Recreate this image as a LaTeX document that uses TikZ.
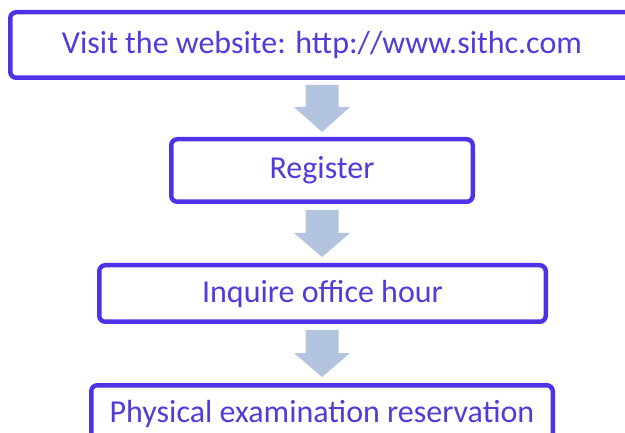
\documentclass[tikz,border=0pt]{standalone}
\usepackage{fontspec}
\setmainfont{Carlito}
\usetikzlibrary{calc}
\definecolor{boxline}{RGB}{80,50,230}
\definecolor{boxtext}{RGB}{80,60,220}
\definecolor{arrowfill}{RGB}{178,196,222}
\tikzset{
  stepbox/.style={draw=boxline, line width=4.5pt, rounded corners=6pt, fill=white,
    text=boxtext, font=\fontsize{32}{37}\selectfont, inner sep=0pt},
  blockarrow/.style={fill=arrowfill, draw=none}
}
% #1 centre x, #2 shaft top y, #3 head start y, #4 tip y (all in pt, y measured from top)
\newcommand{\myblockarrow}[4]{%
  \fill[blockarrow] (#1pt-16.5pt,432pt-#2pt) -- (#1pt+16.5pt,432pt-#2pt)
    -- (#1pt+16.5pt,432pt-#3pt) -- (#1pt+28pt,432pt-#3pt)
    -- (#1pt,432pt-#4pt) -- (#1pt-28pt,432pt-#3pt)
    -- (#1pt-16.5pt,432pt-#3pt) -- cycle;}
\begin{document}
\begin{tikzpicture}[x=1pt,y=1pt]
\useasboundingbox (0,0) rectangle (625,432);
\node[stepbox, minimum width=623.5pt, minimum height=65.5pt] (web) at (322,432-45) {Visit the website: http://www.sithc.com};
\node[stepbox, minimum width=301.5pt, minimum height=62.5pt] (reg) at (322,432-170.5) {Register};
\node[stepbox, minimum width=446.5pt, minimum height=56.5pt] (inq) at (322.5,432-293.5) {Inquire office hour};
\node[stepbox, minimum width=461.5pt, minimum height=56.5pt] (phy) at (322,432-413.5) {Physical examination reservation};
\myblockarrow{322}{85}{107}{132}
\myblockarrow{322}{210}{233}{257}
\myblockarrow{322}{330}{353}{377}
\end{tikzpicture}
\end{document}
